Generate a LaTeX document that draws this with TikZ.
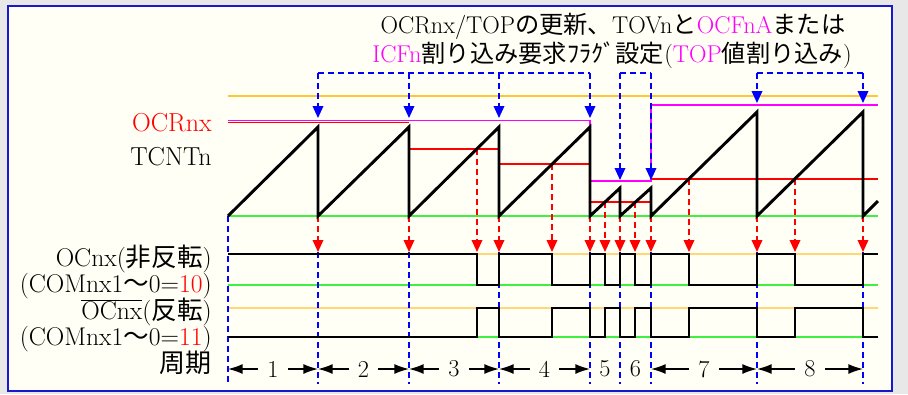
\documentclass[tikz,border=0pt]{standalone}
\usepackage{fontspec}
\usepackage{xcolor}
\usepackage{tikz}
\usetikzlibrary{arrows.meta}
\newfontfamily\jpfont{Noto Sans CJK JP}
\newcommand{\jtxt}[1]{{\jpfont #1}}
\definecolor{FrameBlue}{RGB}{24,24,208}
\definecolor{PaperBg}{RGB}{255,255,246}
\definecolor{OuterGray}{RGB}{232,232,232}
\definecolor{TopOrange}{RGB}{255,200,50}
\definecolor{LvlOrange}{RGB}{255,215,120}
\definecolor{LvlGreen}{RGB}{64,240,64}
\definecolor{SigRed}{RGB}{255,0,0}
\definecolor{SigMag}{RGB}{255,0,255}
\definecolor{SigBlue}{RGB}{0,0,255}

\begin{document}
\begin{tikzpicture}[x=0.75pt, y=-0.75pt,
    lbl/.style={font=\fontsize{19.5}{23}\selectfont, inner sep=0pt},
    pair/.style={font={\fontsize{19.2}{19}\selectfont\lineskiplimit=-20pt},
                 inner sep=0pt, align=right},
    hdr/.style={font=\fontsize{18.2}{22}\selectfont, inner sep=0pt},
    lvl/.style={line width=1.3pt},
    sig/.style={line width=2.2pt, black},
    bdash/.style={SigBlue, line width=1.1pt, dash pattern=on 4.5pt off 3pt},
    rdash/.style={SigRed, line width=1.1pt, dash pattern=on 4.5pt off 3pt},
    tipd/.style={-{Triangle[length=9pt, width=8pt]}},
    dim/.style={{Latex[length=11pt, width=7.5pt]}-{Latex[length=11pt, width=7.5pt]}, line width=1.1pt},
    num/.style={hdr, fill=PaperBg, minimum width=22pt}
  ]
  \useasboundingbox (0,0) rectangle (908,394);
  \fill[OuterGray] (0,0) rectangle (908,394);
  \draw[FrameBlue, line width=1.5pt, fill=PaperBg] (8,5.5) rectangle (892,391);

  \node[hdr, anchor=base] (hdrA) at (613,33)
        {OCRnx/TOP\jtxt{の更新、}TOVn\jtxt{と}\textcolor{SigMag}{OCFnA}\jtxt{または}};
  \node[hdr, anchor=base] (hdrB) at (612,62.5)
        {\textcolor{SigMag}{ICFn}\jtxt{割り込み要求ﾌﾗｸﾞ設定}(\textcolor{SigMag}{TOP}\jtxt{値割り込み})};

  \node[lbl, anchor=base east, text=SigRed] (ocrlbl) at (212,131.5) {OCRnx};
  \node[lbl, anchor=base east] (tcntlbl) at (212,165.5) {TCNTn};
  \node[pair, anchor=base east] (nonlbl) at (212,292)
        {OCnx(\jtxt{非反転})\\(COMnx1\jtxt{～}0=\textcolor{SigRed}{10})};
  \node[pair, anchor=base east] (invlbl) at (212,345)
        {$\overline{\mbox{OCnx}}$(\jtxt{反転})\\(COMnx1\jtxt{～}0=\textcolor{SigRed}{11})};
  \node[lbl, anchor=base east] (perlbl) at (212,372) {\jtxt{周期}};

  \foreach \y/\c in {96/TopOrange, 216/LvlGreen, 254/LvlOrange, 285/LvlGreen, 308/LvlOrange, 337/LvlGreen}
    \draw[lvl, \c] (228,\y) -- (878,\y);

  \draw[lvl, SigRed] (228,122.5) -- (409,122.5);
  \draw[lvl, SigRed] (409,149) -- (499,149);
  \draw[lvl, SigRed] (499,164) -- (590,164);
  \draw[lvl, SigRed] (590,202) -- (651,202);
  \draw[lvl, SigRed] (651,179) -- (878,179);
  \draw[lvl, SigMag] (228,120.5) -- (590,120.5) -- (590,181) -- (651,181) -- (651,105) -- (878,105);

  \draw[bdash] (228,216) -- (228,384);
  \foreach \x in {318,409,499,590,620,651,757,863}
    \draw[bdash] (\x,252) -- (\x,384);

  \draw[bdash] (318,73) -- (590,73);
  \draw[bdash] (620,73) -- (651,73);
  \draw[bdash] (757,73) -- (863,73);
  \foreach \x/\t in {318/118, 409/118, 499/118, 590/118, 620/180, 651/180, 757/103, 863/103}
    \draw[bdash, tipd] (\x,73) -- (\x,\t);

  \foreach \x/\s in {318/216, 409/216, 477/149, 499/216, 552/164, 590/216, 605/202,
                     620/216, 635/202, 651/216, 689/179, 757/216, 795/179, 863/216}
    \draw[rdash, tipd] (\x,\s) -- (\x,252);

  \draw[sig] (228,216) -- (318,127) -- (318,216) -- (409,127) -- (409,216) -- (499,127)
        -- (499,216) -- (590,127) -- (590,216) -- (620,188) -- (620,216) -- (651,188)
        -- (651,216) -- (757,112) -- (757,216) -- (863,112) -- (863,216) -- (878,201);

  \draw[sig] (228,254) -| (477,285) -| (499,254) -| (552,285) -| (590,254) -| (605,285)
        -| (620,254) -| (635,285) -| (651,254) -| (689,285) -| (757,254) -| (795,285)
        -| (863,254) -- (878,254);
  \draw[sig] (228,337) -| (477,308) -| (499,337) -| (552,308) -| (590,337) -| (605,308)
        -| (620,337) -| (635,308) -| (651,337) -| (689,308) -| (757,337) -| (795,308)
        -| (863,337) -- (878,337);

  \foreach \a/\b/\n in {228/318/1, 318/409/2, 409/499/3, 499/590/4, 651/757/7, 757/863/8}
    \draw[dim] (\a,369) -- node[num] {\n} (\b,369);
  \node[hdr] (per5) at (605,369) {5};
  \node[hdr] (per6) at (635.5,369) {6};
\end{tikzpicture}
\end{document}
